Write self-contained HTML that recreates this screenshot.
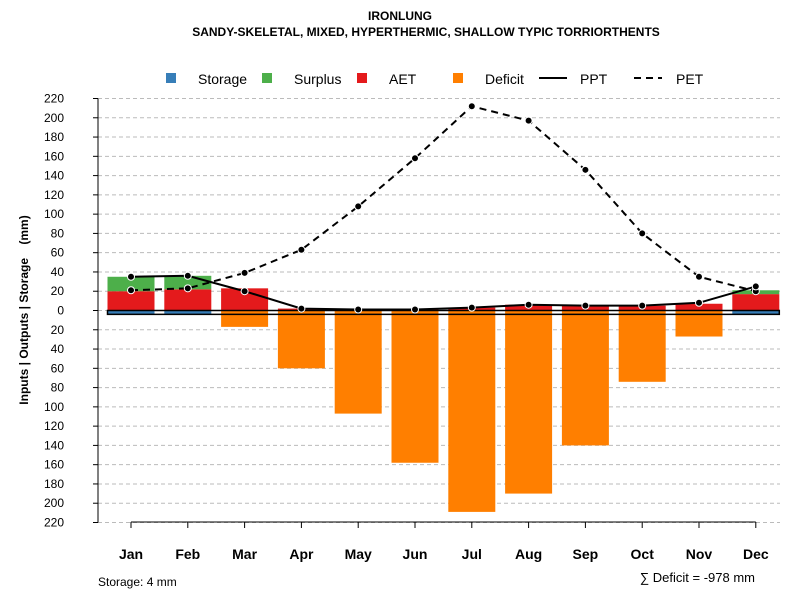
<!DOCTYPE html>
<html><head><meta charset="utf-8"><style>
body{margin:0;background:#fff;font-family:"Liberation Sans",sans-serif}
svg text{font-family:"Liberation Sans",sans-serif}
</style></head><body>
<svg id="c" width="800" height="600" viewBox="0 0 800 600">
<text x="400" y="20" text-anchor="middle" font-size="12" font-weight="bold">IRONLUNG</text>
<text x="426" y="36" text-anchor="middle" font-size="12" font-weight="bold">SANDY-SKELETAL, MIXED, HYPERTHERMIC, SHALLOW TYPIC TORRIORTHENTS</text>
<g>
<rect x="166" y="73" width="10" height="10" fill="#377eb8"/>
<text x="198" y="84" font-size="14">Storage</text>
<rect x="262" y="73" width="10" height="10" fill="#4daf4a"/>
<text x="294" y="84" font-size="14">Surplus</text>
<rect x="357" y="73" width="10" height="10" fill="#e41a1c"/>
<text x="389" y="84" font-size="14">AET</text>
<rect x="453" y="73" width="10" height="10" fill="#ff7f00"/>
<text x="485" y="84" font-size="14">Deficit</text>
<line x1="539" y1="78" x2="567" y2="78" stroke="#000" stroke-width="2"/>
<text x="580" y="84" font-size="14">PPT</text>
<line x1="634" y1="78" x2="662" y2="78" stroke="#000" stroke-width="2" stroke-dasharray="7,5"/>
<text x="676" y="84" font-size="14">PET</text>
</g>
<text transform="translate(28,310) rotate(-90)" text-anchor="middle" font-size="12" font-weight="bold" style="white-space:pre" xml:space="preserve">Inputs | Outputs | Storage    (mm)</text>
<g id="grid"></g><g id="bars"></g><g id="lines"></g><g id="axes"></g>
<text x="98" y="586" font-size="12">Storage: 4 mm</text>
<text x="755" y="582" text-anchor="end" font-size="13">∑ Deficit = -978 mm</text>
</svg>
<script>
const months=["Jan","Feb","Mar","Apr","May","Jun","Jul","Aug","Sep","Oct","Nov","Dec"];
const storage=[4,4,0,0,0,0,0,0,0,0,0,4];
const aet=[20,22,23,2,1,1,3,6,5,5,7,17];
const surplus=[15,14,0,0,0,0,0,0,0,0,0,4];
const deficit=[0,0,17,60,107,158,209,190,140,74,27,0];
const ppt=[35,36,20,2,1,1,3,6,5,5,8,25];
const pet=[21,23,39,63,108,158,212,197,146,80,35,20];
const yTicks=[220,200,180,160,140,120,100,80,60,40,20,0,-20,-40,-60,-80,-100,-120,-140,-160,-180,-200,-220];
const NS="http://www.w3.org/2000/svg";
const y0=310.5,k=0.9636;
const Y=v=>y0-v*k;
const X=i=>131+i*56.8;
const bw=47;
function mk(t,a,p){const e=document.createElementNS(NS,t);for(const q in a)e.setAttribute(q,a[q]);p.appendChild(e);return e;}
const g=document.getElementById('grid'),b=document.getElementById('bars'),l=document.getElementById('lines'),ax=document.getElementById('axes');
yTicks.forEach(t=>{
 const ln=mk('line',{x1:98,x2:780,y1:Y(t),y2:Y(t),stroke:'#bbb','stroke-dasharray':'4,3'},g);
 
 
 const tk=mk('line',{x1:93,x2:98,y1:Y(t),y2:Y(t),stroke:'#000'},ax);
 
 
 const tx=mk('text',{x:64,y:Y(t)+4,'text-anchor':'end','font-size':12},ax);
 tx.textContent=Math.abs(t);
 
 
});
mk('line',{x1:98,x2:98,y1:Y(220),y2:Y(-220),stroke:'#000'},ax);
mk('line',{x1:X(0),x2:X(11),y1:522,y2:522,stroke:'#000'},ax);
months.forEach((m,i)=>{
 const x=X(i);
 const r1=mk('rect',{x:x-bw/2,y:Y(aet[i]),width:bw,height:aet[i]*k,fill:'#e41a1c'},b);
 
 
 const r2=mk('rect',{x:x-bw/2,y:Y(aet[i]+surplus[i]),width:bw,height:surplus[i]*k,fill:'#4daf4a'},b);
 
 
 const r3=mk('rect',{x:x-bw/2,y:Y(0),width:bw,height:deficit[i]*k,fill:'#ff7f00'},b);
 
 
 const r4=mk('rect',{x:x-bw/2,y:Y(0),width:bw,height:storage[i]*k,fill:'#377eb8'},b);
 
 
 const tk=mk('line',{x1:x,x2:x,y1:522,y2:528,stroke:'#000'},ax);
 
 
 const tx=mk('text',{x:x,y:559,'text-anchor':'middle','font-size':14,'font-weight':'bold'},ax);
 tx.textContent=m;
 
 
});
const sb=mk('rect',{x:X(0)-bw/2,y:Y(0),width:X(11)-X(0)+bw,height:4*k,fill:'none',stroke:'#000','stroke-width':1.5},b);


function series(arr,name,dash){
 const p=mk('polyline',{points:arr.map((v,i)=>X(i)+','+Y(v)).join(' '),fill:'none',stroke:'#000','stroke-width':2},l);
 if(dash)p.setAttribute('stroke-dasharray','7,5');
 
 
 arr.forEach((v,i)=>{
  const c=mk('circle',{cx:X(i),cy:Y(v),r:3.5,fill:'#000',stroke:'#fff','stroke-width':1},l);
  
  
 });
}
series(pet,'pet',true);
series(ppt,'ppt',false);
</script>
</body></html>
